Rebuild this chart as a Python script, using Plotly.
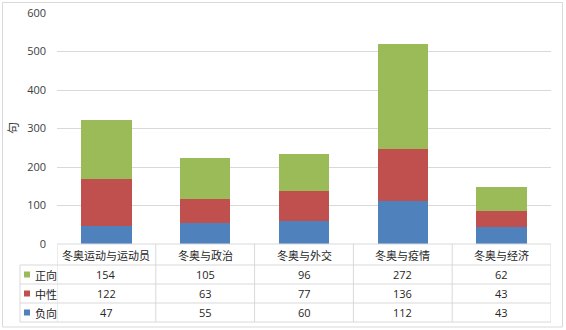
import plotly.graph_objects as go

categories = ["冬奥运动与运动员", "冬奥与政治", "冬奥与外交", "冬奥与疫情", "冬奥与经济"]
negative = [47, 55, 60, 112, 43]
neutral = [122, 63, 77, 136, 43]
positive = [154, 105, 96, 272, 62]
y_ticks = [0, 100, 200, 300, 400, 500, 600]
y_title = "句"

series = [("负向", negative, "#4F81BD"), ("中性", neutral, "#C0504D"), ("正向", positive, "#9BBB59")]
table_rows = [("正向", positive, "#9BBB59"), ("中性", neutral, "#C0504D"), ("负向", negative, "#4F81BD")]

W, H = 566, 330
L, R, T, B = 57, 551, 13, 244
GRID = "#D9D9D9"
CJK = "Noto Sans CJK SC"
NUM = "Open Sans, Liberation Sans, sans-serif"


def py(p):
    return (B - p) / (B - T)


def pxx(p):
    return (p - L) / (R - L)


fig = go.Figure()
for name, vals, color in series:
    fig.add_trace(go.Bar(x=list(range(len(categories))), y=vals, name=name,
                         marker=dict(color=color, line=dict(width=0)), width=0.51))

shapes = []
# outer border
shapes.append(dict(type="rect", xref="paper", yref="paper", x0=pxx(2.5), x1=pxx(562.5), y0=py(327), y1=py(2.5),
                   line=dict(color=GRID, width=1), layer="below"))
# table horizontal lines
shapes.append(dict(type="line", xref="paper", yref="paper", x0=0, x1=1, y0=0, y1=0, line=dict(color=GRID, width=1)))
for yy in [265, 284, 303, 322]:
    shapes.append(dict(type="line", xref="paper", yref="paper", x0=pxx(20), x1=1, y0=py(yy), y1=py(yy),
                       line=dict(color=GRID, width=1)))
# vertical lines
shapes.append(dict(type="line", xref="paper", yref="paper", x0=pxx(20), x1=pxx(20), y0=py(265), y1=py(322),
                   line=dict(color=GRID, width=1)))
for xx in [-0.5 + i for i in range(len(categories) + 1)]:
    shapes.append(dict(type="line", xref="x", yref="paper", x0=xx, x1=xx, y0=0, y1=py(322),
                       line=dict(color=GRID, width=1)))

annotations = []
# header
for i, c in enumerate(categories):
    annotations.append(dict(x=i, y=py(254.5), xref="x", yref="paper", text=c, showarrow=False,
                            font=dict(family=CJK, size=11, color="#262626"), xanchor="center", yanchor="middle"))
row_centers = [274.5, 293.5, 312.5]
for (name, vals, color), yc in zip(table_rows, row_centers):
    shapes.append(dict(type="rect", xref="paper", yref="paper", x0=pxx(24), x1=pxx(30), y0=py(yc + 3), y1=py(yc - 3),
                       fillcolor=color, line=dict(width=0)))
    annotations.append(dict(x=pxx(33), y=py(yc), xref="paper", yref="paper", text=name, showarrow=False,
                            xanchor="left", yanchor="middle", font=dict(family=CJK, size=11, color="#262626")))
    for i, v in enumerate(vals):
        annotations.append(dict(x=i, y=py(yc), xref="x", yref="paper", text=str(v), showarrow=False,
                                xanchor="center", yanchor="middle", font=dict(family=NUM, size=11, color="#262626")))
# y title
annotations.append(dict(x=pxx(12), y=py(128), xref="paper", yref="paper", text=y_title, showarrow=False,
                        textangle=-90, xanchor="center", yanchor="middle",
                        font=dict(family=CJK, size=12, color="#404040")))

fig.update_layout(
    template="none",
    width=W, height=H, margin=dict(l=L, r=W - R, t=T, b=H - B, autoexpand=False),
    barmode="stack", showlegend=False, paper_bgcolor="white", plot_bgcolor="white",
    xaxis=dict(range=[-0.5, len(categories) - 0.5], showticklabels=False, showgrid=False, zeroline=False,
               showline=False, ticks="", automargin=False, fixedrange=True),
    yaxis=dict(range=[0, 600], tickvals=y_ticks, showgrid=True, gridcolor=GRID, gridwidth=1, zeroline=False,
               showline=False, ticks="", automargin=False, ticklabelstandoff=10,
               tickfont=dict(family=NUM, size=11, color="#404040"), fixedrange=True),
    shapes=shapes, annotations=annotations, bargap=0.49,
)
fig.write_html("out.html", config={"displayModeBar": False},
               post_script="document.body.style.margin='0';document.body.style.overflow='hidden';")
